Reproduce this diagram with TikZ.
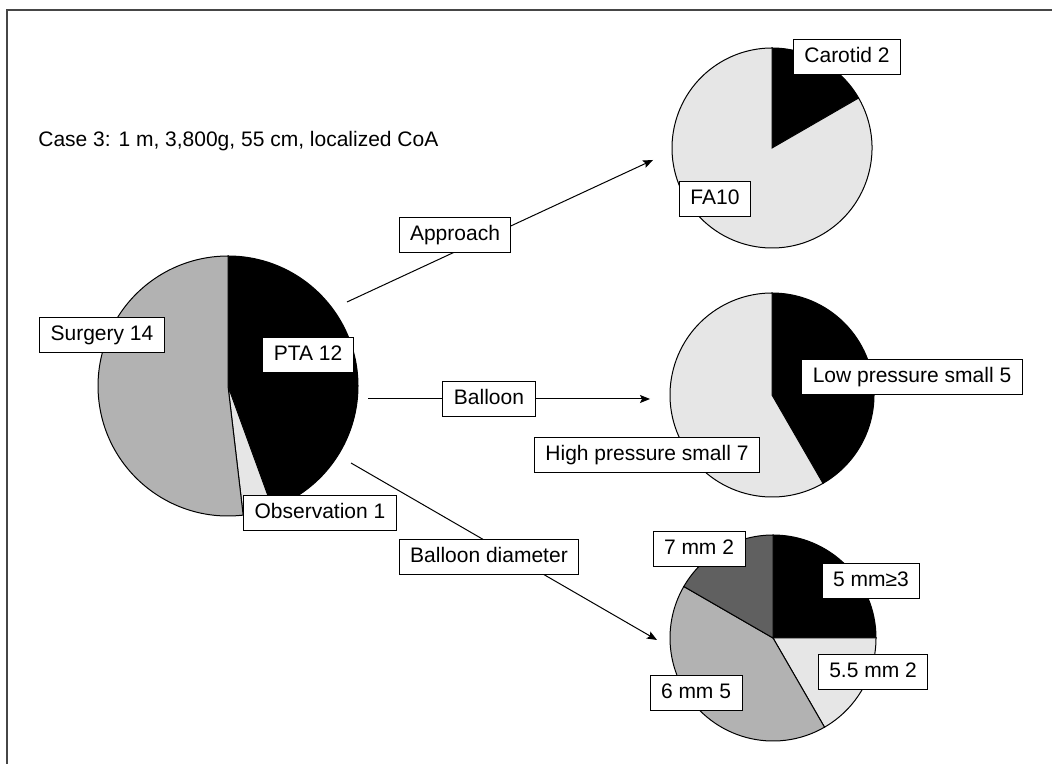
\documentclass[tikz,border=0pt]{standalone}
\usepackage{fontspec}
\setmainfont{Liberation Sans}
\usetikzlibrary{positioning}
\usetikzlibrary{arrows.meta}
\definecolor{pielight}{RGB}{230,230,230}
\definecolor{piemid}{RGB}{178,178,178}
\definecolor{piedark}{RGB}{96,96,96}
\definecolor{framegray}{RGB}{70,70,70}
\newcommand{\pieslice}[5]{%
  \filldraw[draw=black,line width=0.5pt,fill=#5] (#1) -- ++(#3:#2) arc[start angle=#3,end angle=#4,radius=#2] -- cycle;}

\begin{document}
\begin{tikzpicture}[x=0.5pt,y=0.5pt,
  lbl/.style={draw=black,fill=white,line width=0.5pt,inner xsep=5.5pt,inner ysep=0pt,minimum height=17.5pt,text height=7.6pt,text depth=2.2pt,font=\fontsize{10.5}{12}\selectfont},
  conn/.style={-{Stealth[length=5pt,width=4pt,inset=1pt]},line width=0.5pt}]
	\useasboundingbox (0,0) rectangle (1052,764);

    % frame
	\draw[framegray,line width=1.2pt] (1052,754) -- (7,754) -- (7,0);

    % pie centres
	\coordinate (pie0) at (228,378);
	\coordinate (pie1) at (772,616);
	\coordinate (pie2) at (772,369);
	\coordinate (pie3) at (773,126);

    % pies
	\pieslice{pie0}{130}{90}{-70}{black}
	\pieslice{pie0}{130}{-70}{-83.3}{pielight}
	\pieslice{pie0}{130}{-83.3}{-270}{piemid}

	\pieslice{pie1}{100}{90}{30}{black}
	\pieslice{pie1}{100}{30}{-270}{pielight}

	\pieslice{pie2}{102}{90}{-60}{black}
	\pieslice{pie2}{102}{-60}{-270}{pielight}

	\pieslice{pie3}{103}{90}{0}{black}
	\pieslice{pie3}{103}{0}{-60}{pielight}
	\pieslice{pie3}{103}{-60}{-210}{piemid}
	\pieslice{pie3}{103}{150}{90}{piedark}

    % connector ends
	\coordinate (start1) at (347,462);
	\coordinate (end1) at (653,604);
	\coordinate (start2) at (368,365);
	\coordinate (end2) at (650,365);
	\coordinate (start3) at (351,301);
	\coordinate (end3) at (657,124);

    % connectors
	\draw[conn] (start1) -- (end1);
	\draw[conn] (start2) -- (end2);
	\draw[conn] (start3) -- (end3);

    % title
	\node[anchor=west,inner sep=0pt,font=\fontsize{10.5}{12}\selectfont] (title) at (38,623) {Case 3: 1 m, 3,800g, 55 cm, localized CoA};

    % branch labels
	\node[lbl] (approach) at (455,529) {Approach};
	\node[lbl] (balloon) at (489,365) {Balloon};
	\node[lbl] (diameter) at (489,207) {Balloon diameter};

    % slice labels
	\node[lbl] (surgery) at (102,429) {Surgery 14};
	\node[lbl] (pta) at (308,409) {PTA 12};
	\node[lbl] (observation) at (320,251) {Observation 1};

	\node[lbl] (carotid) at (847,707) {Carotid 2};
	\node[lbl] (fa) at (715,565) {FA10};

	\node[lbl] (lowp) at (912,387) {Low pressure small 5};
	\node[lbl] (highp) at (647,309) {High pressure small 7};

	\node[lbl] (mm7) at (699,215) {7 mm 2};
	\node[lbl] (mm5) at (871,183) {5 mm≥3};
	\node[lbl] (mm55) at (873,92) {5.5 mm 2};
	\node[lbl] (mm6) at (696,71) {6 mm 5};
\end{tikzpicture}
\end{document}
